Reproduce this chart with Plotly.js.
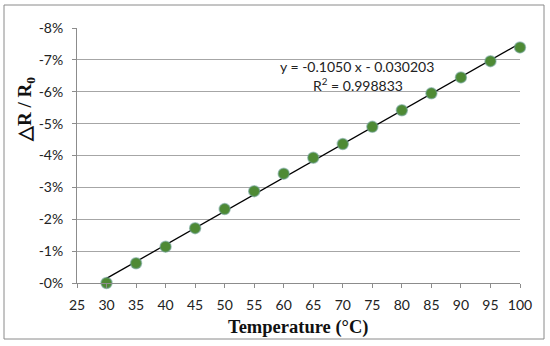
<!DOCTYPE html>
<html>
<head>
<meta charset="utf-8">
<script src="https://cdn.plot.ly/plotly-3.0.1.min.js"></script>
<style>
html,body{margin:0;padding:0;background:#fff;}
#chart{width:550px;height:346px;}
</style>
</head>
<body>
<div id="chart"></div>
<script>
// Temperature (°C)
const temperature = [30, 35, 40, 45, 50, 55, 60, 65, 70, 75, 80, 85, 90, 95, 100];
// ΔR/R0 in percent
const deltaR = [0.00, -0.62, -1.14, -1.72, -2.32, -2.88, -3.43, -3.93, -4.36, -4.90, -5.42, -5.95, -6.45, -6.96, -7.39];
const xTicks = [25, 30, 35, 40, 45, 50, 55, 60, 65, 70, 75, 80, 85, 90, 95, 100];
const yTickVals = [0, -1, -2, -3, -4, -5, -6, -7, -8];
const yTickText = ['-0%', '-1%', '-2%', '-3%', '-4%', '-5%', '-6%', '-7%', '-8%'];
const eqText = 'y = -0.1050 x - 0.030203';
const r2Text = 'R<sup>2</sup> = 0.998833';

// least-squares linear trend from the data
const n = temperature.length;
const mx = temperature.reduce((a, b) => a + b, 0) / n;
const my = deltaR.reduce((a, b) => a + b, 0) / n;
let sxy = 0, sxx = 0;
for (let i = 0; i < n; i++) { sxy += (temperature[i] - mx) * (deltaR[i] - my); sxx += (temperature[i] - mx) ** 2; }
const slope = sxy / sxx, icpt = my - slope * mx;
const trendX = [temperature[0], temperature[n - 1]];
const trendY = trendX.map(x => icpt + slope * x);

const W = 443, H = 255; // plot area size in px
const px = v => v / W, py = v => v / H;

const data = [
  { x: trendX, y: trendY, mode: 'lines', line: { color: '#000', width: 1.3 }, hoverinfo: 'skip', showlegend: false, cliponaxis: false },
  { x: temperature, y: deltaR, mode: 'markers', showlegend: false, cliponaxis: false,
    marker: { size: 11, color: '#4e8a34', line: { color: 'rgba(110,160,150,0.55)', width: 1.5 } } }
];

const layout = {
  width: 550, height: 346,
  margin: { l: 77, r: 30, t: 28, b: 63 },
  paper_bgcolor: '#fff', plot_bgcolor: '#fff',
  font: { family: 'Lato, "Open Sans", sans-serif', size: 14, color: '#222' },
  xaxis: {
    range: [25, 100], tickvals: xTicks, ticktext: xTicks.map(String),
    showgrid: false, zeroline: false, showline: true, linecolor: '#8c8c8c', linewidth: 1,
    ticks: 'outside', ticklen: 4, tickcolor: '#8c8c8c', ticklabelstandoff: 5, tickfont: { size: 14, color: '#222' }
  },
  yaxis: {
    range: [0, -8], tickvals: yTickVals, ticktext: yTickText,
    showgrid: true, gridcolor: '#a6a6a6', gridwidth: 1, zeroline: false,
    showline: true, linecolor: '#8c8c8c', linewidth: 1,
    ticks: 'outside', ticklen: 4, tickcolor: '#8c8c8c', ticklabelstandoff: 6, tickfont: { size: 14, color: '#222' }
  },
  annotations: [
    { text: eqText, xref: 'paper', yref: 'paper', x: px(357 - 77), y: py(283 - 66), showarrow: false,
      xanchor: 'center', yanchor: 'middle', font: { size: 14, color: '#222' } },
    { text: r2Text, xref: 'paper', yref: 'paper', x: px(358 - 77), y: py(283 - 84), showarrow: false,
      xanchor: 'center', yanchor: 'middle', font: { size: 14, color: '#222' } },
    { text: 'Temperature (°C)', xref: 'paper', yref: 'paper', x: px(298 - 77), y: py(283 - 327), showarrow: false,
      xanchor: 'center', yanchor: 'middle', font: { family: '"Liberation Serif", "Times New Roman", serif', size: 18.5, color: '#111', weight: 'bold' } },
    { text: '△R / R<sub>0</sub>', xref: 'paper', yref: 'paper', x: px(26 - 77), y: py(283 - 110), showarrow: false,
      textangle: -90, xanchor: 'center', yanchor: 'middle', font: { family: '"Liberation Serif", "Times New Roman", serif', size: 19, color: '#111', weight: 'bold' } }
  ],
  shapes: [
    { type: 'rect', xref: 'paper', yref: 'paper', x0: px(4 - 77), x1: px(544 - 77), y0: py(283 - 339), y1: py(283 - 5),
      line: { color: '#8a8a8a', width: 1 }, fillcolor: 'rgba(0,0,0,0)', layer: 'below' }
  ]
};

Plotly.newPlot('chart', data, layout, { displayModeBar: false, staticPlot: true });
</script>
</body>
</html>
